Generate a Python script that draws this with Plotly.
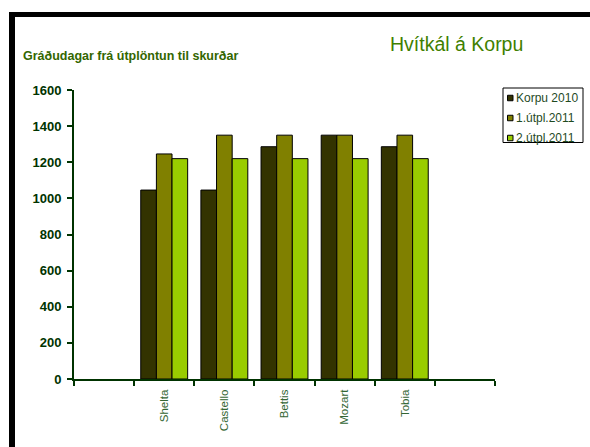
import plotly.graph_objects as go

categories = ["Shelta", "Castello", "Bettis", "Mozart", "Tobia"]
series_names = ["Korpu 2010", "1.útpl.2011", "2.útpl.2011"]
korpu_2010 = [1046, 1046, 1286, 1350, 1286]
utpl1_2011 = [1246, 1350, 1350, 1350, 1350]
utpl2_2011 = [1220, 1220, 1220, 1220, 1220]
series_values = [korpu_2010, utpl1_2011, utpl2_2011]
series_colors = ["#333300", "#808000", "#99CC00"]
y_ticks = [0, 200, 400, 600, 800, 1000, 1200, 1400, 1600]

W, H = 590, 447
L, R, T, B = 74, 95, 90, 68
PW, PH = W - L - R, H - T - B

def px(x):
    return (x - L) / PW

def py(y):
    return (H - B - y) / PH

# category axis with blank spacer categories on both ends
cat_array = [" "] + categories + ["  "]

fig = go.Figure()
for name, vals, col in zip(series_names, series_values, series_colors):
    fig.add_trace(go.Bar(
        x=categories, y=vals, name=name,
        marker=dict(color=col, line=dict(color="#000000", width=1)),
        showlegend=False,
    ))

shapes = [
    dict(type="rect", xref="paper", yref="paper", x0=px(9), x1=px(15), y0=py(12), y1=py(H + 5),
         fillcolor="#000000", line=dict(width=0), layer="above"),
    dict(type="rect", xref="paper", yref="paper", x0=px(9), x1=px(W + 5), y0=py(12), y1=py(17),
         fillcolor="#000000", line=dict(width=0), layer="above"),
    dict(type="rect", xref="paper", yref="paper", x0=px(503), x1=px(583), y0=py(88), y1=py(142.5),
         fillcolor="white", line=dict(color="#000000", width=1), layer="above"),
]
annotations = [
    dict(text="Hvítkál á Korpu", xref="paper", yref="paper", x=px(456), y=py(44),
         xanchor="center", yanchor="middle", showarrow=False,
         font=dict(family="Liberation Sans, Arial", size=19.5, color="#3f7f00")),
    dict(text="Gráðudagar frá útplöntun til skurðar", xref="paper", yref="paper", x=px(21), y=py(56),
         xanchor="left", yanchor="middle", showarrow=False,
         font=dict(family="Liberation Sans, Arial", size=12.5, color="#336600", weight="bold")),
]
row_y = [98, 118, 138]
for name, col, ry in zip(series_names, series_colors, row_y):
    shapes.append(dict(type="rect", xref="paper", yref="paper",
                       x0=px(507.5), x1=px(513), y0=py(ry - 2.75), y1=py(ry + 2.75),
                       fillcolor=col, line=dict(color="#000000", width=1), layer="above"))
    annotations.append(dict(text=name, xref="paper", yref="paper", x=px(514), y=py(ry),
                            xanchor="left", yanchor="middle", showarrow=False,
                            font=dict(family="Liberation Sans, Arial", size=12, color="#1f4a1f")))

fig.update_layout(
    width=W, height=H,
    margin=dict(l=L, r=R, t=T, b=B, pad=0),
    paper_bgcolor="white", plot_bgcolor="white",
    barmode="group", bargap=0.22, bargroupgap=0,
    showlegend=False,
    shapes=shapes, annotations=annotations,
    xaxis=dict(
        type="category", categoryorder="array", categoryarray=cat_array,
        range=[-0.5, len(cat_array) - 0.5],
        tickson="boundaries", ticks="outside", ticklen=5, tickwidth=2, tickcolor="#003300",
        showline=True, linecolor="#003300", linewidth=2, showgrid=False, zeroline=False,
        tickangle=-90, ticklabelstandoff=4,
        tickfont=dict(family="Liberation Sans, Arial", size=11.5, color="#336633"),
        fixedrange=True,
    ),
    yaxis=dict(
        range=[0, 1600], tickvals=y_ticks, ticktext=[str(v) for v in y_ticks],
        ticks="outside", ticklen=5, tickwidth=2, tickcolor="#003300",
        showline=True, linecolor="#003300", linewidth=2, showgrid=False, zeroline=False,
        ticklabelstandoff=3,
        tickfont=dict(family="Liberation Sans, Arial", size=13, color="#003300", weight="bold"),
        fixedrange=True,
    ),
)

fig.write_html("out.html", config={"displayModeBar": False})
